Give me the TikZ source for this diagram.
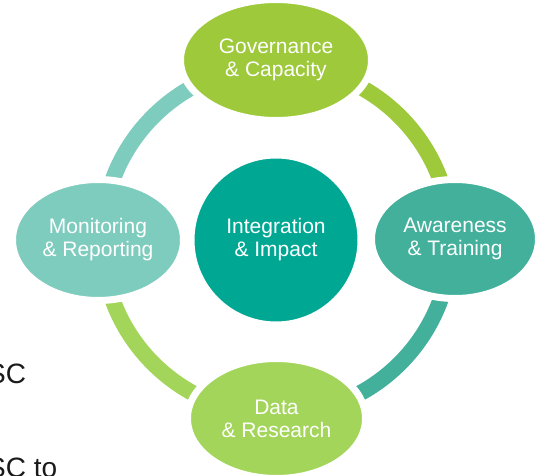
\documentclass[tikz,border=0pt]{standalone}
\usepackage{fontspec}
\setmainfont{Liberation Sans}
\usetikzlibrary{shapes.geometric}
\definecolor{cGov}{HTML}{9DC93B}
\definecolor{cDat}{HTML}{A3D55A}
\definecolor{cMon}{HTML}{7ECCBE}
\definecolor{cAwa}{HTML}{42B09B}
\definecolor{cCore}{HTML}{00A894}
\definecolor{cTxt}{HTML}{1A1A1A}
\begin{document}
\begin{tikzpicture}[x=1pt,y=-1pt,
  blob/.style={ellipse, draw=white, line width=7pt, inner sep=0pt, text=white,
    align=center, font=\fontsize{21}{23}\selectfont},
  ringarc/.style={line width=16pt},
  sidetext/.style={anchor=base west, inner sep=0pt, text=cTxt, font=\fontsize{28}{30}\selectfont}]
\useasboundingbox (0,0) rectangle (539,476);
\clip (0,0) rectangle (539,476);
\coordinate (rc) at (276.5,240);
% ring segments
\draw[ringarc, draw=cGov] ([shift={(-90:174.5)}]rc) arc[start angle=-90, end angle=0, radius=174.5];
\draw[ringarc, draw=cAwa] ([shift={(0:174.5)}]rc) arc[start angle=0, end angle=90, radius=174.5];
\draw[ringarc, draw=cDat] ([shift={(90:174.5)}]rc) arc[start angle=90, end angle=180, radius=174.5];
\draw[ringarc, draw=cMon] ([shift={(180:174.5)}]rc) arc[start angle=180, end angle=270, radius=174.5];
% nodes
\node[blob, fill=cGov, minimum width=191pt, minimum height=121pt] (gov) at (276,60) {Governance\\\& Capacity};
\node[blob, fill=cAwa, minimum width=167pt, minimum height=119pt] (awa) at (455,239) {Awareness\\\& Training};
\node[blob, fill=cDat, minimum width=178pt, minimum height=120pt] (dat) at (276.5,418.5) {Data\\\& Research};
\node[blob, fill=cMon, minimum width=171pt, minimum height=121pt] (mon) at (98,240) {Monitoring\\\& Reporting};
\node[blob, circle, fill=cCore, minimum size=170pt] (core) at (276,240) {Integration\\\& Impact};
% clipped side text
\node[sidetext] (sc1) at (-13,384) {SC};
\node[sidetext] (sc2) at (-13,477) {SC to};
\end{tikzpicture}
\end{document}
